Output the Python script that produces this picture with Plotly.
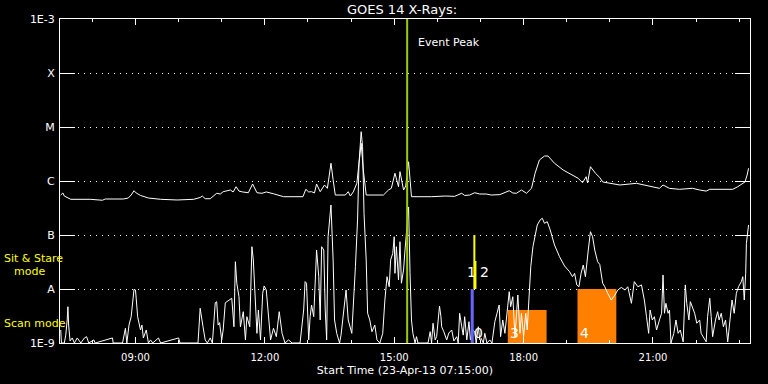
import numpy as np
import pandas as pd
import plotly.graph_objects as go

DAY = "2013-04-23 "

# Long channel (1-8 A) flux, W/m^2
long_times = ["07:16","07:19","07:21","07:30","07:57","08:14","08:18","08:32","08:43","08:50",
 "08:54","08:58","09:01","09:07","09:18","09:35","09:58","10:21","10:30","10:33",
 "10:37","10:44","10:48","10:53","10:58","11:02","11:12","11:16","11:20","11:24",
 "11:29","11:37","11:43","11:49","11:56","12:02","12:12","12:26","12:53","12:57",
 "13:01","13:05","13:09","13:12","13:17","13:23","13:27","13:32","13:35","13:38",
 "13:52","13:56","13:59","14:03","14:08","14:11","14:14","14:17","14:21","14:45",
 "14:52","14:56","15:01","15:06","15:08","15:13","15:16","15:20","15:22","15:24",
 "15:52","16:11","16:24","16:34","16:38","16:45","16:52","16:59","17:08","17:15",
 "17:27","17:34","17:40","17:45","17:50","17:57","18:04","18:11","18:16","18:22",
 "18:29","18:34","18:43","18:55","19:09","19:16","19:22","19:27","19:29","19:33",
 "19:40","19:46","19:50","20:00","20:14","20:37","20:55","21:09","21:14","21:23",
 "21:37","21:55","22:05","22:14","22:19","22:28","22:51","22:58","23:05","23:08",
 "23:11","23:13"]
long_flux = [5.5e-7,6.0e-7,5.27e-7,4.58e-7,4.58e-7,4.4e-7,4.64e-7,4.64e-7,4.64e-7,4.84e-7,
 5.5e-7,6.61e-7,6.0e-7,5.4e-7,4.84e-7,4.58e-7,4.45e-7,4.58e-7,4.95e-7,5.27e-7,
 4.7e-7,4.7e-7,5.27e-7,5.92e-7,5.74e-7,6.34e-7,6.81e-7,6.27e-7,7.84e-7,6.5e-7,
 6.27e-7,6.07e-7,8.8e-7,6.07e-7,5.92e-7,6.27e-7,5.8e-7,5.12e-7,5.12e-7,7.02e-7,
 6.27e-7,6.34e-7,6.0e-7,8.8e-7,6.34e-7,8.43e-7,7.32e-7,2.13e-6,1.05e-6,5.5e-7,
 5.5e-7,6.34e-7,5.27e-7,6.27e-7,9.06e-7,2.45e-6,5.0e-6,1.6e-6,5.5e-7,5.5e-7,
 6.81e-7,7.32e-7,1.39e-6,7.84e-7,1.49e-6,6.81e-7,8.07e-7,2.27e-6,8.43e-7,5.12e-7,
 5.12e-7,5.27e-7,5.2e-7,5.92e-7,5.4e-7,5.5e-7,6.07e-7,5.74e-7,5.74e-7,5.5e-7,
 5.6e-7,6.1e-7,6.61e-7,6.0e-7,5.92e-7,6.81e-7,5.92e-7,7.32e-7,1.39e-6,2.45e-6,
 2.9e-6,2.9e-6,2.13e-6,1.6e-6,1.29e-6,1.12e-6,9.29e-7,1.2e-6,9.2e-7,1.84e-6,
 1.39e-6,1.16e-6,9.6e-7,9.06e-7,8.43e-7,9.06e-7,8.07e-7,7.32e-7,8.43e-7,7.3e-7,
 7.02e-7,7.32e-7,6.81e-7,6.5e-7,7.02e-7,7.02e-7,7.02e-7,7.84e-7,9.29e-7,9.6e-7,
 1.29e-6,1.72e-6]

# Short channel (0.5-4 A) flux, W/m^2
short_times = ["07:16","07:17","07:21","07:23","07:25","07:26","07:27","07:29","07:32","07:35",
 "07:39","07:44","07:49","07:52","07:55","08:02","08:04","08:28","08:29","08:42",
 "08:46","08:48","08:51","08:54","08:58","09:00","09:01","09:03","09:07","09:09",
 "09:11","09:15","09:18","09:21","09:24","09:32","09:35","10:00","10:02","10:27",
 "10:30","10:32","10:34","10:37","10:40","10:44","10:47","10:51","10:53","10:55",
 "10:57","11:00","11:02","11:05","11:10","11:14","11:17","11:19","11:21","11:24",
 "11:26","11:30","11:33","11:35","11:39","11:42","11:44","11:47","11:49","11:51",
 "11:54","11:57","11:59","12:02","12:05","12:08","12:12","12:16","12:20","12:24",
 "12:28","12:33","12:38","12:49","12:54","12:56","12:58","13:01","13:03","13:05",
 "13:08","13:10","13:12","13:15","13:17","13:19","13:22","13:24","13:26","13:28",
 "13:32","13:35","13:37","13:40","13:44","13:46","13:49","13:53","13:56","14:01",
 "14:06","14:09","14:11","14:14","14:16","14:18","14:21","14:23","14:26","14:29",
 "14:33","14:36","14:40","14:44","14:47","14:50","14:53","14:55","14:58","15:00",
 "15:01","15:03","15:06","15:08","15:10","15:13","15:15","15:17","15:20","15:22",
 "15:24","15:26","15:29","15:31","15:33","15:36","15:47","15:50","15:52","15:54",
 "15:57","15:59","16:03","16:05","16:06","16:09","16:13","16:16","16:20","16:23",
 "16:27","16:29","16:31","16:34","16:36","16:38","16:41","16:44","16:46","16:49",
 "16:52","16:54","16:57","16:59","17:01","17:04","17:06","17:09","17:13","17:16",
 "17:20","17:23","17:26","17:28","17:31","17:34","17:37","17:40","17:42","17:45",
 "17:48","17:50","17:52","17:55","17:57","18:00","18:03","18:05","18:08","18:10",
 "18:13","18:16","18:19","18:23","18:26","18:29","18:33","18:37","18:43","18:50",
 "18:57","19:04","19:08","19:11","19:14","19:17","19:20","19:23","19:26","19:30",
 "19:33","19:36","19:39","19:43","19:46","19:50","19:53","19:57","20:02","20:07",
 "20:11","20:16","20:21","20:25","20:30","20:34","20:39","20:44","20:48","20:51",
 "20:54","20:56","20:59","21:02","21:05","21:09","21:12","21:14","21:16","21:18",
 "21:21","21:23","21:25","21:29","21:32","21:35","21:38","21:42","21:45","21:47",
 "21:50","21:52","21:55","21:58","22:01","22:05","22:07","22:10","22:14","22:16",
 "22:19","22:21","22:23","22:27","22:30","22:32","22:35","22:38","22:41","22:44",
 "22:47","22:50","22:53","22:56","22:59","23:03","23:05","23:07","23:09","23:10",
 "23:13"]
short_flux = [1.74e-9,1.0e-9,1.0e-9,1.4e-9,2.67e-9,4.7e-9,2.15e-9,1.09e-9,1.24e-9,1.0e-9,
 1.24e-9,1.0e-9,1.24e-9,1.31e-9,1.0e-9,1.14e-9,1.0e-9,1.24e-9,1.0e-9,1.0e-9,
 1.87e-9,1.0e-9,2.15e-9,3.07e-9,9.87e-9,9.58e-9,6.73e-9,3.07e-9,1.74e-9,2.15e-9,
 1.24e-9,1.74e-9,1.0e-9,1.14e-9,1.0e-9,1.24e-9,1.0e-9,1.24e-9,1.0e-9,1.0e-9,
 4.39e-9,2.67e-9,2.0e-9,1.14e-9,1.0e-9,1.24e-9,1.0e-9,5.57e-9,5.82e-9,2.15e-9,
 2.38e-9,1.14e-9,1.74e-9,5.57e-9,6.25e-9,6.73e-9,2.0e-9,3.2e-8,1.28e-8,7.2e-9,
 2.0e-9,3.8e-9,1.14e-9,3.07e-9,2.0e-9,6.07e-8,3.44e-8,5.43e-9,1.51e-9,4.08e-9,
 1.14e-9,8.32e-9,1.14e-8,9.58e-9,3.07e-9,1.14e-9,1.87e-9,1.31e-9,3.8e-9,1.51e-9,
 1.0e-9,1.14e-9,1.0e-9,1.0e-9,4.08e-9,1.37e-8,1.28e-8,1.14e-9,3.07e-9,5.05e-9,
 3.07e-9,1.69e-8,5.27e-8,1.69e-8,2.67e-9,6.07e-8,5.27e-8,4.08e-9,1.14e-9,9.3e-8,
 3.6e-7,3.44e-8,2.67e-9,1.51e-9,1.0e-9,1.4e-9,3.07e-9,9.58e-9,2.67e-9,1.51e-9,
 2.59e-8,1.9e-7,2.13e-6,8.18e-6,4.32e-6,2.52e-7,3.44e-8,3.55e-9,2.67e-9,1.62e-9,
 2.15e-9,1.14e-9,1.0e-9,1.51e-9,6.25e-9,1.69e-8,1.1e-8,3.44e-8,4.58e-8,9.3e-8,
 1.95e-8,6.07e-8,1.47e-8,7.51e-8,1.28e-8,2.25e-8,5.27e-8,1.0e-7,3.3e-7,2.0e-8,
 2.67e-9,1.51e-9,1.0e-9,1.31e-9,1.0e-9,1.0e-9,1.0e-9,1.62e-9,1.0e-9,2.32e-9,
 1.14e-9,1.31e-9,4.84e-9,3.07e-9,2.0e-9,1.62e-9,1.14e-9,1.53e-9,1.74e-9,1.09e-9,
 1.31e-9,1.0e-9,3.55e-9,2.0e-9,1.4e-9,3.07e-9,1.14e-9,2.48e-9,1.14e-9,1.74e-9,
 1.62e-9,1.0e-9,2.0e-9,1.14e-9,1.22e-9,1.0e-9,1.51e-9,1.0e-9,1.14e-9,1.0e-9,
 2.48e-9,3.55e-9,5.05e-9,1.31e-9,2.67e-9,1.51e-9,3.55e-9,8.91e-9,4.7e-9,7.2e-9,
 1.31e-9,4.08e-9,7.74e-9,1.51e-9,3.55e-9,1.31e-9,3.55e-9,1.74e-9,9.58e-9,2.59e-8,
 6.07e-8,9.3e-8,1.53e-7,1.9e-7,2.04e-7,1.65e-7,1.76e-7,1.24e-7,6.53e-8,3.96e-8,
 2.67e-8,2.09e-8,1.69e-8,1.95e-8,1.19e-8,1.1e-8,1.95e-8,2.78e-8,1.69e-8,5.27e-8,
 1.15e-7,9.3e-8,5.27e-8,3.2e-8,2.85e-8,1.28e-8,1.1e-8,8.32e-9,6.25e-9,7.74e-9,
 9.58e-9,1.07e-8,9.58e-9,1.1e-8,5.43e-9,1.37e-8,1.1e-8,1.19e-8,6.25e-9,3.07e-9,
 1.51e-9,4.08e-9,2.67e-9,3.07e-9,1.74e-9,2.67e-9,3.55e-9,1.82e-8,3.55e-9,5.43e-9,
 3.55e-9,4.08e-9,1.0e-9,1.51e-9,2.67e-9,1.51e-9,1.74e-9,1.05e-9,1.19e-8,5.43e-9,
 2.67e-9,5.82e-9,4.7e-9,3.55e-9,2.32e-9,2.67e-9,1.51e-9,1.31e-9,1.05e-9,3.07e-9,
 6.73e-9,3.07e-9,1.31e-9,2.67e-9,3.8e-9,2.67e-9,3.55e-9,2.0e-9,2.67e-9,1.05e-9,
 2.67e-9,6.25e-9,3.55e-9,8.32e-9,1.1e-8,1.37e-8,1.69e-8,6.25e-9,1.95e-8,7.02e-8,
 1.53e-7]

# Axis
x_start, x_end = "07:15", "23:15"
level_vals = [1e-9, 1e-8, 1e-7, 1e-6, 1e-5, 1e-4, 1e-3]
level_text = ["1E-9", "A", "B", "C", "M", "X", "1E-3"]

# Event peak
peak_time = "15:18"

# Sit & stare events (vertical bars)
ev_labels = ["0", "1", "2"]
ev_times = ["16:48:30", "16:51:30", "16:53:00"]
ev_lo = [1e-9, 1e-8, 1e-8]
ev_hi = [1e-8, 1e-7, 3.3e-8]

# Scan-mode blocks
scan_labels = ["3", "4"]
scan_start = ["17:38", "19:15"]
scan_end = ["18:32", "20:09"]
scan_top = [4.1e-9, 1e-8]
scan_bottom = 1e-9


def T(s):
    return pd.to_datetime([DAY + t for t in s]) if isinstance(s, list) else pd.to_datetime(DAY + s)


FONT = "DejaVu Sans"
WHITE = "#ffffff"
fig = go.Figure()

# scan blocks (under curves)
for s, e, top in zip(scan_start, scan_end, scan_top):
    xs = T([s, e, e, s, s])
    ys = [scan_bottom, scan_bottom, top, top, scan_bottom]
    fig.add_trace(go.Scatter(x=xs, y=ys, mode="lines", fill="toself",
                             fillcolor="#ff8000", line=dict(width=0, color="#ff8000"),
                             hoverinfo="skip", showlegend=False))

fig.add_trace(go.Scatter(x=T(short_times), y=short_flux, mode="lines",
                         line=dict(color=WHITE, width=1), showlegend=False))
fig.add_trace(go.Scatter(x=T(long_times), y=long_flux, mode="lines",
                         line=dict(color=WHITE, width=1), showlegend=False))

# event peak line
fig.add_trace(go.Scatter(x=T([peak_time, peak_time]), y=[1e-9, 1e-3], mode="lines",
                         line=dict(color="#99cc00", width=2), showlegend=False))

ev_colors = ["#6666ff", "#ffff00", "#ffff00"]
ev_widths = [3, 2, 2]
for t, lo, hi, c, w in zip(ev_times, ev_lo, ev_hi, ev_colors, ev_widths):
    fig.add_trace(go.Scatter(x=T([t, t]), y=[lo, hi], mode="lines",
                             line=dict(color=c, width=w), showlegend=False))

annotations = []
annotations.append(dict(x=T(peak_time), y=np.log10(3.6e-4), xref="x", yref="y",
                        text="Event Peak", showarrow=False, xanchor="left", yanchor="middle",
                        xshift=9, font=dict(family=FONT, size=11, color=WHITE)))
lab_y = [np.log10(1.53e-9), np.log10(2.07e-8), np.log10(2.07e-8)]
lab_anchor = ["left", "right", "left"]
lab_shift = [0, 4, 3]
for lab, t, y, a, sh in zip(ev_labels, ev_times, lab_y, lab_anchor, lab_shift):
    annotations.append(dict(x=T(t), y=y, xref="x", yref="y", text=lab, showarrow=False,
                            xanchor=a, yanchor="middle", xshift=sh,
                            font=dict(family=FONT, size=14, color=WHITE)))
for lab, t in zip(scan_labels, scan_start):
    annotations.append(dict(x=T(t), y=np.log10(1.53e-9), xref="x", yref="y", text=lab,
                            showarrow=False, xanchor="left", yanchor="middle", xshift=0,
                            font=dict(family=FONT, size=14, color=WHITE)))

# mode labels on the left
annotations.append(dict(x=-0.084, y=np.log10(3.6e-8), xref="paper", yref="y",
                        text="Sit & Stare", showarrow=False, xanchor="left", yanchor="middle",
                        font=dict(family=FONT, size=11, color="#ffff00")))
annotations.append(dict(x=-0.07, y=np.log10(2.15e-8), xref="paper", yref="y",
                        text="mode", showarrow=False, xanchor="left", yanchor="middle",
                        font=dict(family=FONT, size=11, color="#ffff00")))
annotations.append(dict(x=-0.084, y=np.log10(2.25e-9), xref="paper", yref="y",
                        text="Scan mode", showarrow=False, xanchor="left", yanchor="middle",
                        font=dict(family=FONT, size=11, color="#ffff00")))

fig.update_layout(
    width=768, height=384,
    margin=dict(l=60, r=18, t=19, b=41, autoexpand=False),
    paper_bgcolor="black", plot_bgcolor="black",
    font=dict(family=FONT, color=WHITE, size=11),
    title=dict(text="GOES 14 X-Rays:", x=(402 - 60) / 690, xref="paper", xanchor="center",
               y=1 - 9 / 384, yref="container", yanchor="middle",
               font=dict(family=FONT, size=13, color=WHITE)),
    annotations=annotations,
    showlegend=False,
    hovermode=False,
)
fig.update_xaxes(
    type="date", range=[T(x_start), T(x_end)],
    tickformat="%H:%M", dtick=3 * 3600000, tick0=DAY + "09:00",
    ticks="inside", ticklen=6, tickwidth=1, tickcolor=WHITE,
    showline=True, linecolor=WHITE, linewidth=1, mirror="allticks",
    showgrid=False, zeroline=False, automargin=False,
    minor=dict(dtick=3600000, tick0=DAY + "09:00", ticks="inside", ticklen=3,
               tickcolor=WHITE, showgrid=False),
    tickfont=dict(family=FONT, size=10, color=WHITE), ticklabelstandoff=5,
    title=dict(text="Start Time (23-Apr-13 07:15:00)", standoff=4,
               font=dict(family=FONT, size=11, color=WHITE)),
)
fig.update_yaxes(
    type="log", range=[-9, -3],
    tickvals=level_vals, ticktext=level_text,
    ticks="inside", ticklen=15, tickwidth=1, tickcolor=WHITE,
    showline=True, linecolor=WHITE, linewidth=1, mirror="allticks",
    showgrid=True, gridcolor=WHITE, gridwidth=1, griddash="1px,5px",
    zeroline=False, automargin=False,
    tickfont=dict(family=FONT, size=11, color=WHITE), ticklabelstandoff=2,
)

fig.write_html("out.html", config={"displayModeBar": False},
               post_script="document.body.style.margin='0';document.body.style.background='black';")
